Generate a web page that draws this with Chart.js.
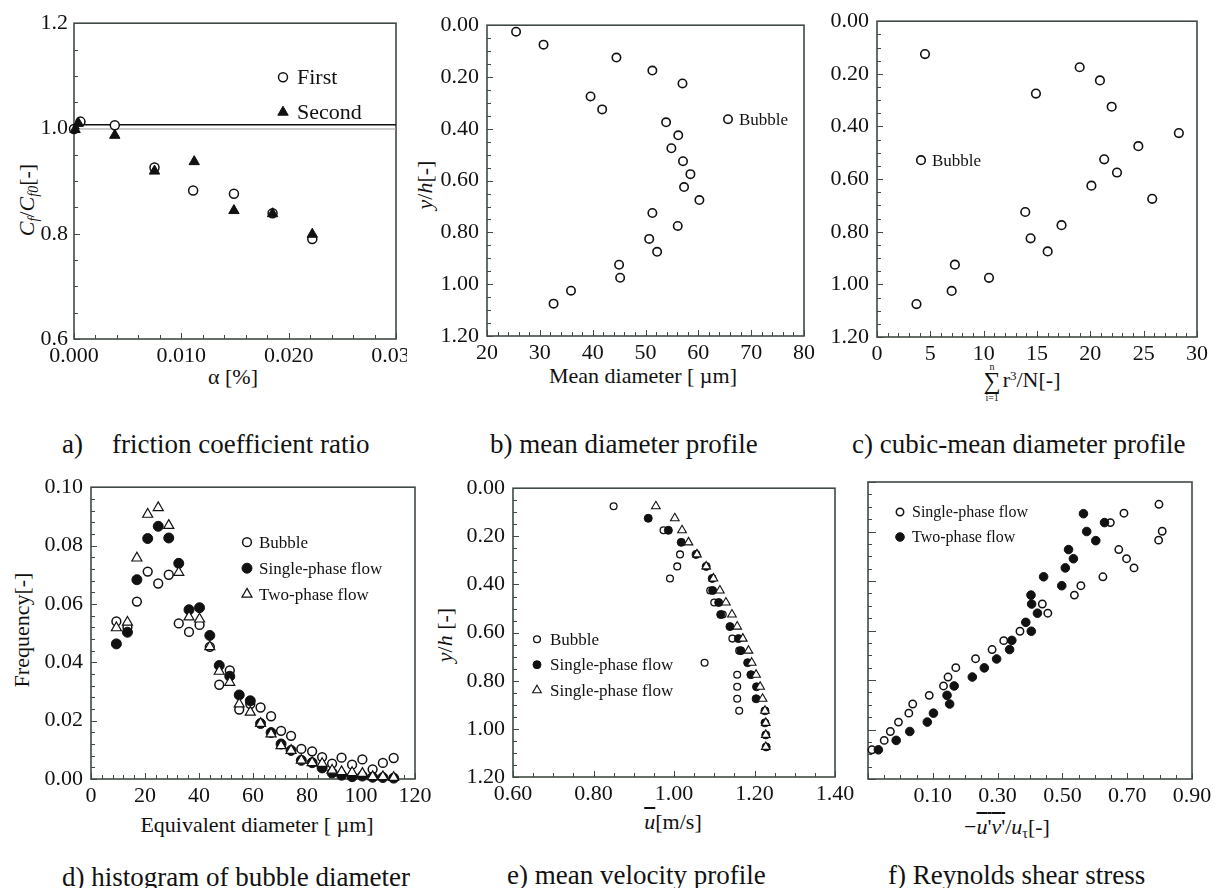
<!DOCTYPE html>
<html lang="en">
<head>
  <meta charset="UTF-8" />
  <title>Microbubble flow - six panels</title>
  <script src="https://cdn.jsdelivr.net/npm/chart.js"></script>
  <style>
    body { margin:0; width:1219px; height:888px; position:relative; overflow:hidden; background:#fff;
           font-family:"Liberation Serif","Times New Roman",serif; color:#111; }
    .panel { position:absolute; overflow:hidden; }
    .lbl { position:absolute; white-space:nowrap; transform:translate(-50%,-50%); font-size:22px; line-height:22px; color:#111; }
    .rot { transform:translate(-50%,-50%) rotate(-90deg); }
    .cap { position:absolute; white-space:nowrap; font-size:27px; line-height:27px; transform:translateY(-50%); }
    sub { font-size:14px; vertical-align:-4px; line-height:0; }
    sup { font-size:13px; vertical-align:7px; line-height:0; }
    .ov { text-decoration:overline; }
    .sig { display:inline-flex; flex-direction:column; align-items:center; vertical-align:middle; line-height:0.9; margin-right:2px; }
    .sig .lim { font-size:10px; }
    .sig .s { font-size:24px; }
  </style>
</head>
<body>
  <!-- axis titles -->
  <div class="lbl" style="left:233px;top:377px">α [%]</div>
  <div class="lbl rot" style="left:27px;top:200px"><i>C<sub>f</sub></i>/<i>C<sub>f0</sub></i>[-]</div>
  <div class="lbl" style="left:643px;top:376px">Mean diameter [ µm]</div>
  <div class="lbl rot" style="left:425px;top:185px"><i>y</i>/<i>h</i>[-]</div>
  <div class="lbl" style="left:1022px;top:382px"><span class="sig"><span class="lim">n</span><span class="s">∑</span><span class="lim">i=1</span></span>r<sup>3</sup>/N[-]</div>
  <div class="lbl" style="left:257px;top:825px">Equivalent diameter [ µm]</div>
  <div class="lbl rot" style="left:22px;top:630px">Frequency[-]</div>
  <div class="lbl" style="left:673px;top:822px"><span class="ov"><i>u</i></span>[m/s]</div>
  <div class="lbl rot" style="left:445px;top:635px"><i>y</i>/<i>h</i> [-]</div>
  <div class="lbl" style="left:1007px;top:827px">−<span class="ov"><i>u</i>'<i>v</i>'</span>/<i>u</i><sub>τ</sub>[-]</div>

  <!-- captions -->
  <div class="cap" style="left:62px;top:444px">a)</div>
  <div class="cap" style="left:112px;top:444px">friction coefficient ratio</div>
  <div class="cap" style="left:490px;top:444px">b) mean diameter profile</div>
  <div class="cap" style="left:852px;top:444px">c) cubic-mean diameter profile</div>
  <div class="cap" style="left:62px;top:877px">d) histogram of bubble diameter</div>
  <div class="cap" style="left:507px;top:875px">e) mean velocity profile</div>
  <div class="cap" style="left:888px;top:875px">f) Reynolds shear stress</div>

  <script>
    // ---- a) friction coefficient ratio ----
    const aAlphaFirst  = [0.0000, 0.0006, 0.0038, 0.0075, 0.0111, 0.0149, 0.0185, 0.0222];
    const aFirst       = [0.999, 1.013, 1.006, 0.926, 0.882, 0.876, 0.839, 0.790];
    const aAlphaSecond = [0.0001, 0.0004, 0.0038, 0.0075, 0.0112, 0.0149, 0.0185, 0.0222];
    const aSecond      = [0.998, 1.010, 0.987, 0.919, 0.937, 0.844, 0.838, 0.799];
    const aRefLevels   = [1.007, 0.999];
    const aRefSpan     = [0, 0.03];

    // ---- b) mean diameter profile ----
    const bYh = [0.025, 0.075, 0.125, 0.175, 0.225, 0.275, 0.325, 0.375, 0.425, 0.475, 0.525,
                 0.575, 0.625, 0.675, 0.725, 0.775, 0.825, 0.875, 0.925, 0.975, 1.025, 1.075];
    const bDiameter = [25.5, 30.7, 44.5, 51.3, 57.0, 39.6, 41.8, 53.9, 56.2, 54.9, 57.1,
                       58.5, 57.3, 60.2, 51.3, 56.1, 50.7, 52.2, 45.0, 45.2, 35.9, 32.6];

    // ---- c) cubic-mean diameter profile ----
    const cYh = [0.125, 0.175, 0.225, 0.275, 0.325, 0.425, 0.475, 0.525, 0.575, 0.625,
                 0.675, 0.725, 0.775, 0.825, 0.875, 0.925, 0.975, 1.025, 1.075];
    const cCubic = [4.5, 19.0, 20.9, 14.9, 22.0, 28.3, 24.5, 21.3, 22.5, 20.1,
                    25.8, 13.9, 17.3, 14.4, 16.0, 7.3, 10.5, 7.0, 3.7];

    // ---- d) histogram of bubble diameter ----
    const dDiameter = [9.4, 13.5, 17.0, 21.0, 24.9, 28.8, 32.5, 36.3, 40.2, 44.0, 47.5, 51.4, 54.9, 59.0,
                       62.8, 66.7, 70.4, 74.1, 77.9, 81.9, 85.6, 89.3, 92.8, 96.7, 100.5, 104.3, 108.1, 112.1];
    const dBubble = [0.0540, 0.0520, 0.0608, 0.0711, 0.0670, 0.0700, 0.0533, 0.0504, 0.0528, 0.0453, 0.0323, 0.0372, 0.0238, 0.0257,
                     0.0245, 0.0215, 0.0165, 0.0148, 0.0103, 0.0095, 0.0075, 0.0053, 0.0073, 0.0049, 0.0067, 0.0033, 0.0055, 0.0072];
    const dSingle = [0.0463, 0.0503, 0.0683, 0.0824, 0.0866, 0.0826, 0.0739, 0.0580, 0.0587, 0.0492, 0.0389, 0.0352, 0.0288, 0.0268,
                     0.0190, 0.0159, 0.0120, 0.0098, 0.0064, 0.0056, 0.0038, 0.0021, 0.0013, 0.0008, 0.0010, 0.0006, 0.0005, 0.0003];
    const dTwo    = [0.0518, 0.0537, 0.0757, 0.0907, 0.0930, 0.0869, 0.0708, 0.0555, 0.0548, 0.0453, 0.0369, 0.0331, 0.0257, 0.0229,
                     0.0190, 0.0154, 0.0114, 0.0098, 0.0064, 0.0056, 0.0053, 0.0030, 0.0025, 0.0022, 0.0019, 0.0008, 0.0008, 0.0005];

    // ---- e) mean velocity profile ----
    const eYhBubble = [0.075, 0.175, 0.275, 0.325, 0.375, 0.425, 0.475, 0.525, 0.625, 0.675, 0.725, 0.775, 0.825, 0.875, 0.925];
    const eBubble   = [0.850, 0.974, 1.015, 1.008, 0.990, 1.090, 1.100, 1.121, 1.145, 1.162, 1.076, 1.157, 1.157, 1.157, 1.162];
    const eYhSingle = [0.125, 0.175, 0.225, 0.275, 0.325, 0.375, 0.425, 0.475, 0.525, 0.575,
                       0.625, 0.675, 0.725, 0.775, 0.825, 0.875, 0.925, 0.975, 1.025, 1.075];
    const eSingle   = [0.936, 0.986, 1.018, 1.055, 1.080, 1.095, 1.096, 1.111, 1.116, 1.139,
                       1.160, 1.166, 1.183, 1.191, 1.205, 1.204, 1.226, 1.226, 1.228, 1.229];
    const eYhTwo    = [0.075, 0.125, 0.175, 0.225, 0.275, 0.325, 0.375, 0.425, 0.475, 0.525, 0.575,
                       0.625, 0.675, 0.725, 0.775, 0.825, 0.875, 0.925, 0.975, 1.025, 1.075];
    const eTwo      = [0.955, 1.002, 1.020, 1.036, 1.057, 1.080, 1.098, 1.114, 1.129, 1.144, 1.157,
                       1.171, 1.185, 1.193, 1.204, 1.214, 1.220, 1.226, 1.228, 1.228, 1.228];

    // ---- f) Reynolds shear stress ----
    const fYhSingle = [0.090, 0.126, 0.164, 0.199, 0.235, 0.273, 0.310, 0.347, 0.383, 0.419, 0.457, 0.493, 0.530, 0.603,
                       0.641, 0.677, 0.714, 0.750, 0.788, 0.824, 0.862, 0.897, 0.934, 0.970, 1.008, 1.044, 1.082];
    const fSingle   = [0.798, 0.690, 0.648, 0.808, 0.797, 0.674, 0.698, 0.721, 0.625, 0.557, 0.537, 0.438, 0.455, 0.369,
                       0.319, 0.283, 0.232, 0.171, 0.147, 0.133, 0.089, 0.038, 0.026, -0.006, -0.031, -0.050, -0.088];
    const fYhTwo    = [0.128, 0.164, 0.200, 0.237, 0.273, 0.310, 0.347, 0.383, 0.419, 0.457, 0.493, 0.530, 0.567, 0.603,
                       0.640, 0.677, 0.715, 0.751, 0.788, 0.824, 0.862, 0.897, 0.934, 0.970, 1.008, 1.044, 1.082];
    const fTwo      = [0.565, 0.630, 0.575, 0.603, 0.519, 0.534, 0.509, 0.442, 0.498, 0.403, 0.405, 0.423, 0.387, 0.404,
                       0.344, 0.337, 0.297, 0.259, 0.222, 0.166, 0.144, 0.152, 0.102, 0.083, 0.029, -0.013, -0.068];

    const SERIF = '"Liberation Serif", "Times New Roman", serif';
    const AXIS = '#3f4a42';
    const PAD_L = 70, PAD_T = 16, PAD_R = 40, PAD_B = 40;

    // frame + inward minor ticks, positions come from the scales
    const frameTicks = {
      id: 'frameTicks',
      beforeDatasetsDraw(chart, args, o) {
        const { ctx, chartArea: ca } = chart;
        ctx.save();
        ctx.strokeStyle = AXIS;
        ctx.lineWidth = 1.6;
        ctx.strokeRect(ca.left, ca.top, ca.right - ca.left, ca.bottom - ca.top);
        ctx.lineWidth = 1;
        ['x', 'y'].forEach(id => {
          const s = chart.scales[id], t = o[id];
          const n = Math.round((s.max - s.min) / t.minor);
          for (let k = 0; k <= n; k++) {
            const v = s.min + k * t.minor;
            const r = (v - s.min) / t.major;
            const len = Math.abs(r - Math.round(r)) < 1e-6 ? t.majorLen : t.minorLen;
            const p = Math.round(s.getPixelForValue(v)) + 0.5;
            ctx.beginPath();
            if (id === 'x') { ctx.moveTo(p, ca.bottom); ctx.lineTo(p, ca.bottom - len); }
            else { ctx.moveTo(ca.left, p); ctx.lineTo(ca.left + len, p); }
            ctx.stroke();
          }
        });
        ctx.restore();
      }
    };

    // legend drawn inside the plot at a given offset from the chart area corner
    const legendAt = {
      id: 'legendAt',
      afterDatasetsDraw(chart, args, o) {
        if (!o.items) return;
        const { ctx, chartArea: ca } = chart;
        o.items.forEach((it, i) => {
          const ds = chart.data.datasets[it.ds];
          const x = ca.left + o.x, y = ca.top + o.y + i * o.dy;
          ctx.save();
          ctx.fillStyle = ds.pointBackgroundColor;
          ctx.strokeStyle = ds.pointBorderColor;
          ctx.lineWidth = ds.pointBorderWidth;
          Chart.helpers.drawPoint(ctx, { pointStyle: ds.pointStyle, radius: ds.pointRadius,
                                         borderWidth: ds.pointBorderWidth, rotation: 0 }, x, y);
          ctx.fillStyle = '#111';
          ctx.font = o.size + 'px ' + SERIF;
          ctx.textBaseline = 'middle';
          ctx.fillText(it.text, x + o.dx, y + 1);
          ctx.restore();
        });
      }
    };

    function axis(min, max, step, fmt, opts = {}) {
      return {
        type: 'linear', min, max, reverse: !!opts.reverse,
        grid: { display: false, drawTicks: false }, border: { display: false },
        ticks: { stepSize: step, autoSkip: false, maxRotation: 0, padding: opts.pad || 4,
                 display: opts.labels !== false, color: '#111', font: { family: SERIF, size: 22 },
                 callback: fmt },
        afterFit: s => { if (s.isHorizontal()) s.height = PAD_B; else s.width = PAD_L; }
      };
    }

    function pts(xs, ys) { return xs.map((x, i) => ({ x, y: ys[i] })); }

    function marker(kind, r, bw) {
      const filled = kind === 'filled' || kind === 'filledTri';
      return {
        pointStyle: kind.indexOf('ri') > 0 ? 'triangle' : 'circle',
        pointRadius: r, pointHoverRadius: r,
        pointBackgroundColor: filled ? '#111' : '#fff',
        pointBorderColor: '#111', pointBorderWidth: bw,
        showLine: false, clip: false
      };
    }

    function makePanel(box, cfg, clipRight) {
      const cw = box.r - box.l + PAD_L + PAD_R, ch = box.b - box.t + PAD_T + PAD_B;
      const left = box.l - PAD_L, top = box.t - PAD_T;
      const wrap = document.createElement('div');
      wrap.className = 'panel';
      wrap.style.left = left + 'px';
      wrap.style.top = top + 'px';
      wrap.style.width = (clipRight ? clipRight - left : cw) + 'px';
      wrap.style.height = ch + 'px';
      const cv = document.createElement('canvas');
      cv.width = cw; cv.height = ch;
      wrap.appendChild(cv);
      document.body.appendChild(wrap);
      cfg.options = Object.assign({
        responsive: false, animation: false, events: [],
        layout: { padding: { top: PAD_T, right: PAD_R, left: 0, bottom: 0 } }
      }, cfg.options);
      cfg.options.plugins = Object.assign({ legend: { display: false }, tooltip: { enabled: false } }, cfg.options.plugins);
      cfg.plugins = [frameTicks, legendAt];
      return new Chart(cv, cfg);
    }

    const fix = d => v => v.toFixed(d);
    const yProfile = (labels) => axis(0, 1.2, 0.2, fix(2), { reverse: true, pad: 8, labels });
    const profTicks = (xMinor, xMajor) => ({
      x: { minor: xMinor, major: xMajor, minorLen: 4, majorLen: 6 },
      y: { minor: 0.05, major: 0.2, minorLen: 4, majorLen: 6 }
    });

    // a)
    makePanel({ l: 74, t: 20, r: 396, b: 339 }, {
      type: 'scatter',
      data: { datasets: [
        Object.assign({ label: 'Second', data: pts(aAlphaSecond, aSecond), order: 0 }, marker('filledTri', 6, 1)),
        Object.assign({ label: 'First', data: pts(aAlphaFirst, aFirst), order: 1 }, marker('open', 4.5, 1.5)),
        { type: 'line', data: pts(aRefSpan, [aRefLevels[0], aRefLevels[0]]), borderColor: '#111', borderWidth: 1.4, pointRadius: 0, order: 3 },
        { type: 'line', data: pts(aRefSpan, [aRefLevels[1], aRefLevels[1]]), borderColor: '#9a9a9a', borderWidth: 1, pointRadius: 0, order: 4 }
      ] },
      options: {
        scales: { x: axis(0, 0.03, 0.01, fix(3)), y: axis(0.6, 1.2, 0.2, fix(1), { pad: 6 }) },
        plugins: {
          frameTicks: { x: { minor: 0.002, major: 0.01, minorLen: 4, majorLen: 6 },
                        y: { minor: 0.05, major: 0.2, minorLen: 4, majorLen: 6 } },
          legendAt: { x: 209, y: 54, dy: 35, dx: 14, size: 22,
                      items: [{ ds: 1, text: 'First' }, { ds: 0, text: 'Second' }] }
        }
      }
    }, 407);

    // b)
    makePanel({ l: 487, t: 20, r: 804, b: 336 }, {
      type: 'scatter',
      data: { datasets: [ Object.assign({ label: 'Bubble', data: pts(bDiameter, bYh) }, marker('open', 4.2, 1.6)) ] },
      options: {
        scales: { x: axis(20, 80, 10, fix(0)), y: yProfile() },
        plugins: {
          frameTicks: profTicks(2, 10),
          legendAt: { x: 241, y: 94, dy: 0, dx: 11, size: 17, items: [{ ds: 0, text: 'Bubble' }] }
        }
      }
    });

    // c)
    makePanel({ l: 877, t: 16, r: 1197, b: 337 }, {
      type: 'scatter',
      data: { datasets: [ Object.assign({ label: 'Bubble', data: pts(cCubic, cYh) }, marker('open', 4.3, 1.6)) ] },
      options: {
        scales: { x: axis(0, 30, 5, fix(0)), y: yProfile() },
        plugins: {
          frameTicks: profTicks(1, 5),
          legendAt: { x: 44, y: 139, dy: 0, dx: 11, size: 17, items: [{ ds: 0, text: 'Bubble' }] }
        }
      }
    });

    // d)
    makePanel({ l: 91, t: 482, r: 415, b: 779 }, {
      type: 'scatter',
      data: { datasets: [
        Object.assign({ label: 'Two-phase flow', data: pts(dDiameter, dTwo), order: 0 }, marker('openTri', 5.8, 1.2)),
        Object.assign({ label: 'Single-phase flow', data: pts(dDiameter, dSingle), order: 1 }, marker('filled', 5, 1)),
        Object.assign({ label: 'Bubble', data: pts(dDiameter, dBubble), order: 2 }, marker('open', 4.4, 1.5))
      ] },
      options: {
        scales: { x: axis(0, 120, 20, fix(0)), y: axis(0, 0.1, 0.02, fix(2), { pad: 8 }) },
        plugins: {
          frameTicks: { x: { minor: 4, major: 20, minorLen: 4, majorLen: 6 },
                        y: { minor: 0.004, major: 0.02, minorLen: 4, majorLen: 6 } },
          legendAt: { x: 156, y: 55, dy: 26, dx: 12, size: 17,
                      items: [{ ds: 2, text: 'Bubble' }, { ds: 1, text: 'Single-phase flow' }, { ds: 0, text: 'Two-phase flow' }] }
        }
      }
    });

    // e)
    makePanel({ l: 513, t: 483, r: 835, b: 777 }, {
      type: 'scatter',
      data: { datasets: [
        Object.assign({ label: 'Single-phase flow', data: pts(eTwo, eYhTwo), order: 0 }, marker('openTri', 5, 1.1)),
        Object.assign({ label: 'Single-phase flow', data: pts(eSingle, eYhSingle), order: 1 }, marker('filled', 4, 1)),
        Object.assign({ label: 'Bubble', data: pts(eBubble, eYhBubble), order: 2 }, marker('open', 3.4, 1.3))
      ] },
      options: {
        scales: { x: axis(0.6, 1.4, 0.2, fix(2)), y: yProfile() },
        plugins: {
          frameTicks: profTicks(0.05, 0.2),
          legendAt: { x: 24, y: 151, dy: 25.5, dx: 13, size: 17,
                      items: [{ ds: 2, text: 'Bubble' }, { ds: 1, text: 'Single-phase flow' }, { ds: 0, text: 'Single-phase flow' }] }
        }
      }
    });

    // f)
    makePanel({ l: 868, t: 482, r: 1192, b: 779 }, {
      type: 'scatter',
      data: { datasets: [
        Object.assign({ label: 'Two-phase flow', data: pts(fTwo, fYhTwo), order: 0 }, marker('filled', 4.3, 1)),
        Object.assign({ label: 'Single-phase flow', data: pts(fSingle, fYhSingle), order: 1 }, marker('open', 3.7, 1.5))
      ] },
      options: {
        scales: { x: axis(-0.1, 0.9, 0.2, v => v > 0 ? v.toFixed(2) : ''), y: yProfile(false) },
        plugins: {
          frameTicks: { x: { minor: 0.05, major: 0.2, minorLen: 4, majorLen: 6 },
                        y: { minor: 0.05, major: 0.2, minorLen: 4, majorLen: 8 } },
          legendAt: { x: 32, y: 30, dy: 25, dx: 12, size: 16,
                      items: [{ ds: 1, text: 'Single-phase flow' }, { ds: 0, text: 'Two-phase flow' }] }
        }
      }
    });
  </script>
</body>
</html>
